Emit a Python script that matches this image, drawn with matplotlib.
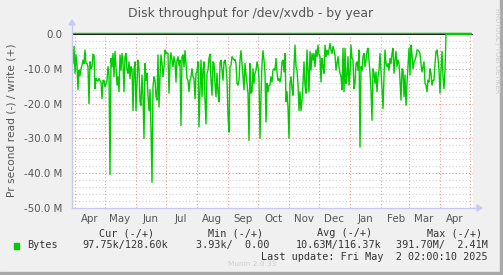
import numpy as np
import pandas as pd
import matplotlib
matplotlib.use('Agg')
import matplotlib.pyplot as plt
import matplotlib.dates as mdates
from matplotlib.patches import Rectangle

# daily read throughput (MB/s, shown negative)
read_apr_may = [-8.5, -3.5, -11.3, -6, -9, -16, -10.4, -12, -10, -9, -7.5, -8.5, -4.6, -8.5, -8.5,
                -9.4, -20, -8, -10, -9.4, -5.8, -6, -15.7, -12.8, -13.3, -13.5, -12.8, -13.5, -13.8,
                -18.6, -13.3, -13.3, -15.2, -14.2, -13.3, -9.4, -11.8, -40.4, -7, -9.4, -5.6, -12.3,
                -5, -9.4, -14.7, -12.3, -16.6, -6, -10.4, -5.6, -8.5, -16.6, -6.5, -5.6, -10.4, -11.3,
                -8, -12.8, -9.4, -10, -22, -10.4, -8, -22, -14.2, -7.5, -10]
read_jun_jul = [-19.5, -20.5, -11.8, -18, -30, -8.5, -13.3, -11.3, -18, -22, -16, -27.7, -42.6, -15.2,
                -12.3, -13.3, -18, -19, -6, -21, -12.3, -6, -8.5, -12.3, -9.4, -4.6, -5.6, -5.4, -5.6,
                -17, -8.5, -5.4, -7.5, -9.4, -6.5, -8, -13.8, -7.5, -6.5, -9, -7.5, -26.3, -6.5, -6,
                -9.4, -4.8, -8.5, -12.8, -13.3, -16.6, -13.3, -12.3, -10, -12.3, -12.8, -18.6, -11.3,
                -10.9, -8, -26.7, -16, -7.5, -18, -10.4, -8, -19, -25.8, -11.3]
read_aug_sep = [-10.4, -7, -5.8, -13.3, -17.6, -8, -8.5, -14.2, -18, -11.3, -17, -19.5, -8.5, -7.5,
                -10.4, -13.3, -8, -7.5, -9.4, -13.3, -23.4, -28.2, -9.4, -9, -6.5, -7, -7.5, -7.3,
                -8.5, -14.2, -14.7, -13.3, -7.5, -4.8, -8.5, -12.3, -16, -8.5, -11.8, -14.2, -17,
                -30.6, -8.5, -17, -16.6, -10, -14.2, -11.3, -10.4, -8, -9.4, -12.8, -30, -18, -8.5,
                -4.8, -7.5, -11.3, -25.3, -14.2, -16.6, -14.7, -14.7, -12.3, -13.8, -10.4, -10, -10.4]
read_oct_nov = [-7, -10.9, -13.3, -12.8, -13.8, -12.3, -8, -7.5, -10.9, -5.6, -19.5, -16.6, -21, -30,
                -14.2, -12.3, -15.7, -17.6, -9.4, -3.2, -9.4, -10.4, -14.2, -22, -16.6, -22, -19,
                -14.2, -8, -14.7, -17, -4.6, -10.4, -16.6, -5, -10.4, -5.6, -7.5, -5.6, -9.4, -4.6,
                -6.5, -3.2, -6, -6.5, -13.8, -7, -9.4, -11.3, -3.2, -6.5, -4.6, -6, -4.6, -2.7, -4.6,
                -5.6, -3.6, -4.6, -6, -10.4, -8.5, -6.5, -9.4, -11.3, -12.3, -16, -4.1]
read_dec_jan = [-16.6, -4.1, -14.2, -12.3, -6.5, -14.7, -11.3, -3.2, -7, -7.5, -15.7, -14.2, -8.5, -8,
                -10.4, -4.6, -32.5, -9.4, -10.4, -6.5, -5.6, -9.4, -7.5, -5, -4.1, -7.5, -11.3, -16,
                -24.8, -10, -11.3, -14.2, -10.9, -16.6, -12.3, -10.4, -5.6, -10.4, -15.7, -21.4,
                -12.3, -4.6, -8.5, -9.4, -8.5, -10.4, -7, -8.5, -5.6, -4.1, -11.3, -7.5, -5, -9.4,
                -7.5, -8.5, -13.3, -19, -10, -10.4, -18, -11.8, -20.5, -14.2, -9.4, -4.1, -11.8, -3.2]
read_feb_apr = [-6, -10, -8, -7.5, -6.5, -4.6, -4.6, -5, -5.6, -8.5, -10.9, -9.4, -8, -14.2, -14.7,
                -16.6, -13.3, -13.8, -10, -11.3, -14.7, -13.3, -13.3, -8.5, -5, -4.6, -7, -10.4, -17,
                -10.4, -5, -12.3, -15.7, -10.4]
read_tail = [-0.12, -0.09, -0.11, -0.1, -0.08, -0.1, -0.12, -0.1, -0.09, -0.1, -0.11, -0.1, -0.1,
             -0.09, -0.1, -0.12, -0.1, -0.1, -0.09, -0.11, -0.1, -0.1, -0.1, -0.09, -0.1, -0.1]

# write throughput (positive, tiny), one value per month
write_vals = [0.11, 0.12, 0.1, 0.13, 0.12, 0.11, 0.12, 0.1, 0.12, 0.13, 0.11, 0.12, 0.12, 0.13, 0.13]
write_dates = pd.date_range('2024-03-30', '2025-05-02', periods=len(write_vals))

read_vals = read_apr_may + read_jun_jul + read_aug_sep + read_oct_nov + read_dec_jan + read_feb_apr + read_tail
read_dates = pd.date_range('2024-03-30', periods=len(read_vals), freq='D')

yticks = [0, -10, -20, -30, -40, -50]
ytick_labels = ['0.0', '-10.0 M', '-20.0 M', '-30.0 M', '-40.0 M', '-50.0 M']

W, H = 503, 275
bg = '#F0F0F0'
green = '#00CC00'
txt = '#555555'

fig = plt.figure(figsize=(W / 100, H / 100), dpi=100, facecolor=bg)

def fx(x):
    return x / W

def fy(y):
    return 1 - y / H

# 3d-ish frame on the right and bottom
fig.patches.append(Rectangle((fx(W - 3), 0), fx(3), 1, transform=fig.transFigure, color='#A8A8A8', zorder=0))
fig.patches.append(Rectangle((0, 0), 1, fy(H - 3), transform=fig.transFigure, color='#A8A8A8', zorder=0))

ax = fig.add_axes([fx(72), fy(208), fx(473 - 72), fy(34) - fy(208)])
ax.set_facecolor('white')
ax.set_xlim(pd.Timestamp('2024-03-29'), pd.Timestamp('2025-05-04'))
ax.set_ylim(-50, 0)

# grid
for v in np.arange(-48, 0, 2):
    if v % 10 != 0:
        ax.axhline(v, color='#D4D4D4', lw=0.8, ls=(0, (1, 2)), zorder=1)
for v in yticks[1:-1]:
    ax.axhline(v, color='#EE9999', lw=0.8, ls=(0, (1, 2)), zorder=1)
month_starts = pd.date_range('2024-04-01', '2025-05-01', freq='MS')
for d in month_starts:
    ax.axvline(d, color='#EE9999', lw=0.8, ls=(0, (1, 2)), zorder=1)

ax.plot(write_dates, write_vals, color=green, lw=1.2, zorder=2, clip_on=False)
ax.axhline(0, color='black', lw=1.2, zorder=3)
ax.plot(read_dates, read_vals, color=green, lw=1, zorder=4)

for s in ax.spines.values():
    s.set_visible(False)

ax.set_yticks(yticks)
ax.set_yticklabels(ytick_labels)
ax.tick_params(axis='y', length=0, pad=7, labelsize=7.4, labelcolor=txt)

ax.xaxis.set_major_locator(mdates.MonthLocator(bymonthday=16))
ax.xaxis.set_major_formatter(mdates.DateFormatter('%b'))
ax.tick_params(axis='x', length=0, pad=4, labelsize=7.4, labelcolor=txt)

# axis lines with arrows (lavender)
axc = '#C8C8F0'
fig.add_artist(plt.Line2D([fx(72), fx(72)], [fy(208), fy(24)], color=axc, lw=1))
fig.add_artist(plt.Line2D([fx(72), fx(478)], [fy(208), fy(208)], color=axc, lw=1))
fig.patches.append(plt.Polygon([[fx(69), fy(25)], [fx(75), fy(25)], [fx(72), fy(20)]],
                               closed=True, transform=fig.transFigure, color=axc))
fig.patches.append(plt.Polygon([[fx(477), fy(205)], [fx(477), fy(211)], [fx(482), fy(208)]],
                               closed=True, transform=fig.transFigure, color=axc))

fig.text(fx(251), fy(13), 'Disk throughput for /dev/xvdb - by year', ha='center', va='center',
         fontsize=8.9, color=txt)
fig.text(fx(12), fy(120), 'Pr second read (-) / write (+)', rotation=90, ha='center', va='center',
         fontsize=7.7, color=txt)
fig.text(fx(497), fy(8), 'RRDTOOL / TOBI OETIKER', rotation=270, ha='center', va='top',
         fontsize=4.8, color='#C8C8C8')

mono = 'DejaVu Sans Mono'
lc = '#333333'
fs = 7.3
for x, s in [(127, 'Cur (-/+)'), (236, 'Min (-/+)'), (345, 'Avg (-/+)'), (455, 'Max (-/+)')]:
    fig.text(fx(x), fy(233), s, ha='center', va='center', family=mono, fontsize=fs, color=lc)
fig.patches.append(Rectangle((fx(14), fy(249)), fx(5), fy(243) - fy(249), transform=fig.transFigure,
                             color=green))
fig.text(fx(27), fy(245), 'Bytes', ha='left', va='center', family=mono, fontsize=fs, color=lc)
for x, s in [(168, '97.75k/128.60k'), (270, '3.93k/  0.00'), (382, '10.63M/116.37k'),
             (488, '391.70M/  2.41M')]:
    fig.text(fx(x), fy(245), s, ha='right', va='center', family=mono, fontsize=fs, color=lc)
fig.text(fx(488), fy(257), 'Last update: Fri May  2 02:00:10 2025', ha='right', va='center',
         family=mono, fontsize=fs, color=lc)
fig.text(fx(252), fy(264), 'Munin 2.0.33', ha='center', va='center', fontsize=5.3, color='#CCCCCC')

fig.savefig('out.png', dpi=100, facecolor=bg)
